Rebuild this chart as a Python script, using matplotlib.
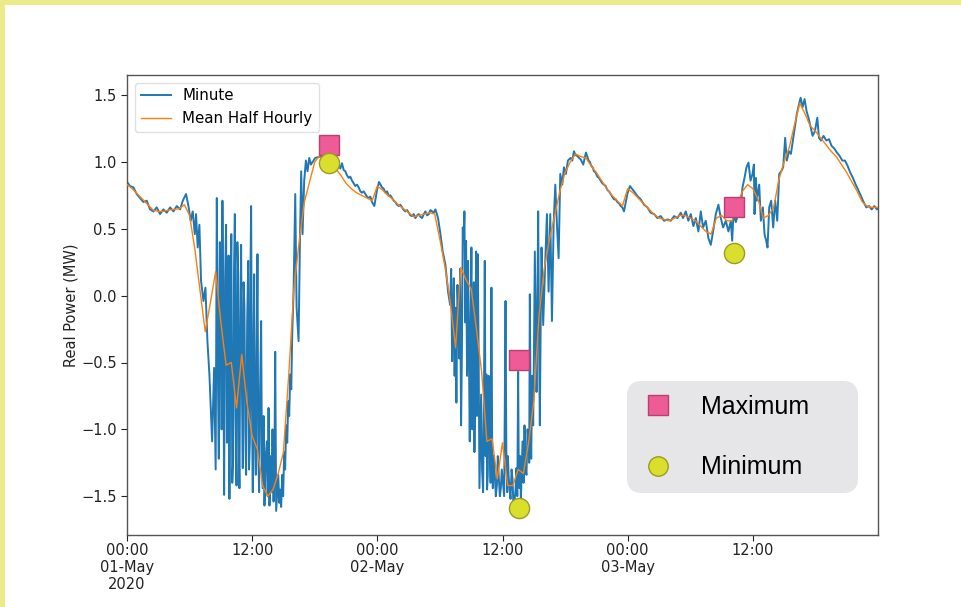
import matplotlib
matplotlib.use('Agg')
import matplotlib.pyplot as plt
from matplotlib.lines import Line2D
from matplotlib.patches import Rectangle

# ---------------- data (hours since 01-May-2020 00:00, MW) ----------------
# minute readings (hour, MW)
minute_readings = [
    (0.0, 0.85), (0.29, 0.82), (0.61, 0.81), (0.93, 0.76), (1.25, 0.73), (1.57, 0.70), (1.89, 0.71),
    (2.21, 0.645), (2.53, 0.63), (2.85, 0.66), (3.17, 0.61), (3.49, 0.645), (3.81, 0.62), (4.13, 0.66),
    (4.45, 0.63), (4.77, 0.67), (5.09, 0.645), (5.35, 0.71), (5.66, 0.76), (5.89, 0.67), (6.11, 0.56),
    (6.30, 0.63), (6.50, 0.46), (6.62, 0.61), (6.78, 0.36), (6.94, 0.53), (7.10, 0.11), (7.33, -0.04),
    (7.52, 0.06), (7.71, -0.34), (7.90, -0.59),
    (8.03, -0.84), (8.16, -1.09), (8.35, -0.54), (8.50, -1.30), (8.61, 0.73), (8.72, -0.60), (8.80, -1.22),
    (8.90, 0.40), (8.99, 0.16), (9.07, -1.00), (9.15, 0.71), (9.23, -0.30), (9.31, -1.49), (9.40, 0.10),
    (9.50, 0.53), (9.58, -1.10), (9.66, -0.84), (9.74, 0.30), (9.82, -1.52), (9.91, -0.20), (10.0, 0.46),
    (10.09, -1.40), (10.18, -1.22), (10.26, 0.20), (10.34, 0.61), (10.42, -0.90), (10.5, -1.42),
    (10.58, 0.40), (10.66, 0.16), (10.72, -1.10), (10.78, -1.44), (10.86, -0.30), (10.94, 0.38),
    (11.02, -0.70), (11.1, -1.29), (11.18, 0.10), (11.26, -0.09), (11.34, -1.00), (11.42, -1.34),
    (11.52, -0.20), (11.62, 0.26), (11.70, -1.30), (11.78, -1.09), (11.84, 0.20), (11.9, 0.67),
    (11.98, -0.80), (12.06, -1.47), (12.12, -0.50), (12.19, 0.16), (12.27, -1.10), (12.35, -1.34),
    (12.43, -0.40), (12.51, 0.31), (12.59, -1.20), (12.67, -1.47), (12.76, -0.70), (12.86, -0.19),
    (12.94, -1.30), (13.02, -1.44), (13.10, -0.90), (13.18, -1.57), (13.30, -1.20), (13.41, -1.09),
    (13.49, -1.50), (13.57, -0.84), (13.66, -1.57), (13.76, -1.20), (13.86, -1.47), (13.95, -1.00),
    (14.05, -1.54), (14.13, -1.30), (14.21, -0.42), (14.30, -1.61),
    (14.5, -1.34), (14.6, -1.55), (14.69, -1.45), (14.78, -1.58), (14.88, -1.34), (14.97, -1.50),
    (15.07, -1.17), (15.16, -1.30), (15.26, -0.97), (15.36, -1.10), (15.46, -0.79), (15.55, -0.90),
    (15.65, -0.59), (15.75, -0.70), (15.84, -0.29), (15.97, 0.03), (16.13, 0.76), (16.26, -0.09),
    (16.45, -0.34), (16.58, 0.41), (16.70, 0.93), (16.83, 0.46), (16.99, 0.86), (17.15, 1.01),
    (17.31, 0.93), (17.47, 1.03), (17.63, 0.98), (18.05, 1.03), (18.53, 1.04), (19.17, 1.03),
    (19.97, 1.02), (20.13, 0.97), (20.29, 0.98), (20.45, 0.95), (20.61, 0.99), (20.77, 0.94),
    (20.93, 0.93), (21.09, 0.90), (21.25, 0.88), (21.41, 0.89), (21.57, 0.86), (21.73, 0.84),
    (21.89, 0.82), (22.05, 0.83), (22.21, 0.81), (22.37, 0.78), (22.53, 0.77), (22.69, 0.78),
    (22.85, 0.76), (23.01, 0.74), (23.17, 0.73), (23.33, 0.74), (23.49, 0.70), (23.71, 0.67),
    (23.97, 0.79), (24.16, 0.85),
    (24.45, 0.81), (24.61, 0.80), (24.77, 0.77), (24.93, 0.78), (25.09, 0.745), (25.25, 0.75),
    (25.41, 0.73), (25.57, 0.71), (25.73, 0.70), (25.89, 0.68), (26.05, 0.67), (26.21, 0.68),
    (26.37, 0.66), (26.53, 0.64), (26.69, 0.63), (26.85, 0.64), (27.01, 0.62), (27.17, 0.60),
    (27.33, 0.595), (27.49, 0.61), (27.65, 0.58), (27.81, 0.60), (27.97, 0.61), (28.13, 0.59),
    (28.29, 0.58), (28.45, 0.61), (28.61, 0.63), (28.77, 0.60), (28.93, 0.61), (29.09, 0.64),
    (29.25, 0.63), (29.41, 0.62), (29.57, 0.645), (29.82, 0.58), (30.05, 0.46), (30.27, 0.33),
    (30.53, 0.23), (30.78, 0.03),
    (30.98, -0.07), (31.08, 0.20), (31.17, -0.49), (31.25, -0.20), (31.33, 0.13), (31.41, -0.60),
    (31.49, -0.09), (31.58, -0.80), (31.68, 0.08), (31.76, -0.10), (31.84, -0.47), (31.93, 0.20),
    (32.03, -0.97), (32.11, -0.40), (32.19, 0.51), (32.27, 0.40), (32.35, 0.63), (32.43, -0.20),
    (32.51, 0.41), (32.60, -0.60), (32.70, 0.26), (32.78, -0.40), (32.86, -1.09), (32.94, -0.20),
    (33.02, 0.36), (33.10, -1.00), (33.18, -0.59), (33.25, 0.10), (33.31, -1.17), (33.39, -0.50),
    (33.47, 0.33), (33.55, -0.90), (33.63, 0.31), (33.71, -0.40), (33.79, -1.44), (33.87, -1.10),
    (33.95, -0.74), (34.04, -1.30), (34.14, -1.47), (34.22, -0.80), (34.30, 0.26), (34.38, -1.20),
    (34.46, -0.59), (34.52, -1.45), (34.59, -1.34), (34.68, -0.60), (34.78, -1.09), (34.86, -1.40),
    (34.94, 0.06), (35.00, -1.00), (35.07, -1.44), (35.16, -1.20), (35.26, -1.34), (35.36, -1.50),
    (35.46, -1.42), (35.55, -1.20), (35.65, -1.37), (35.75, -1.50), (35.84, -1.44), (35.93, -1.30),
    (36.03, -1.39), (36.16, -1.50), (36.29, -0.04), (36.37, -1.20), (36.45, -1.47), (36.52, -1.20),
    (36.58, -1.34), (36.68, -1.45), (36.77, -1.52), (36.87, -1.30), (36.96, -1.37), (37.05, -1.58),
    (37.15, -1.54), (37.25, -1.45), (37.34, -1.29), (37.42, -1.50), (37.5, -0.57), (37.56, -1.30),
    (37.63, -1.44), (37.70, -1.20), (37.76, -1.54), (37.84, -1.30), (37.92, -1.09), (38.02, -1.40),
    (38.11, -0.97), (38.20, -1.30), (38.30, -1.34), (38.40, -1.00), (38.50, -1.09), (38.56, -1.25),
    (38.62, 0.01), (38.68, -0.70), (38.75, -1.22), (38.85, -0.60), (38.94, -0.97), (39.02, -0.40),
    (39.10, 0.33), (39.18, -0.20), (39.26, -0.72), (39.34, -0.10), (39.42, 0.63), (39.50, -0.30),
    (39.58, -0.97), (39.66, -0.20), (39.74, 0.36), (39.82, 0.10), (39.90, -0.22),
    (40.10, 0.26), (40.26, 0.61), (40.42, 0.03), (40.58, 0.61), (40.74, -0.19), (40.90, 0.53),
    (41.06, 0.83), (41.22, 0.53), (41.38, 0.28), (41.54, 0.91), (41.73, 0.83), (41.89, 0.96),
    (42.08, 0.91), (42.27, 1.01), (42.53, 1.03), (42.69, 1.01), (42.85, 1.08), (43.01, 1.05),
    (43.17, 1.045), (43.33, 1.03), (43.49, 1.02), (43.74, 0.98), (44.0, 1.07), (44.13, 1.04),
    (44.26, 1.01), (44.38, 1.0), (44.51, 0.97), (44.64, 0.96), (44.77, 0.93), (44.93, 0.92),
    (45.09, 0.89), (45.25, 0.88), (45.41, 0.86), (45.57, 0.84), (45.73, 0.83), (45.89, 0.82),
    (46.05, 0.79), (46.21, 0.78), (46.37, 0.76), (46.53, 0.74), (46.69, 0.72), (46.85, 0.72),
    (47.01, 0.70), (47.17, 0.69), (47.33, 0.67), (47.49, 0.66), (47.65, 0.63), (47.97, 0.76),
    (48.22, 0.82),
    (48.61, 0.78), (48.93, 0.745), (49.25, 0.72), (49.57, 0.68), (49.89, 0.66), (50.21, 0.62),
    (50.53, 0.61), (50.85, 0.58), (51.17, 0.595), (51.49, 0.56), (51.81, 0.57), (52.13, 0.56),
    (52.45, 0.595), (52.77, 0.58), (53.09, 0.62), (53.31, 0.58), (53.57, 0.63), (53.82, 0.56),
    (54.05, 0.61), (54.30, 0.52), (54.53, 0.58), (54.78, 0.48), (55.01, 0.63), (55.23, 0.51),
    (55.49, 0.56), (55.74, 0.43), (55.97, 0.38), (56.19, 0.48), (56.45, 0.61), (56.70, 0.68),
    (56.93, 0.58), (57.15, 0.51), (57.41, 0.56), (57.66, 0.48), (57.89, 0.56), (58.02, 0.41),
    (58.14, 0.61), (58.37, 0.55), (58.59, 0.61), (58.82, 0.66), (59.01, 0.81), (59.20, 0.88),
    (59.39, 0.96), (59.58, 0.995), (59.78, 0.86), (59.97, 0.91), (60.10, 0.98), (60.16, 0.61),
    (60.30, 0.88),
    (60.38, 0.71), (60.61, 0.83), (60.77, 0.56), (60.96, 0.66), (61.12, 0.46), (61.28, 0.41),
    (61.41, 0.36), (61.57, 0.66), (61.76, 0.71), (61.95, 0.51), (62.14, 0.71), (62.34, 0.56),
    (62.53, 0.91), (62.72, 0.93), (62.91, 0.96), (63.10, 1.18), (63.26, 1.01), (63.46, 1.08),
    (63.65, 1.06), (63.84, 1.16), (64.03, 1.26), (64.22, 1.36), (64.42, 1.43), (64.58, 1.48),
    (64.77, 1.41), (64.96, 1.47), (65.15, 1.38), (65.34, 1.33), (65.54, 1.26), (65.73, 1.195),
    (65.95, 1.23), (66.18, 1.33), (66.34, 1.18), (66.53, 1.16), (66.78, 1.195), (67.04, 1.16),
    (67.30, 1.17), (67.55, 1.12), (67.81, 1.10), (68.06, 1.07), (68.32, 1.045), (68.58, 1.01),
    (68.83, 1.01), (69.09, 0.97), (69.34, 0.92), (69.60, 0.88), (69.86, 0.83), (70.11, 0.79),
    (70.37, 0.745), (70.62, 0.70), (70.88, 0.66), (71.14, 0.67), (71.39, 0.645), (71.65, 0.67),
    (71.90, 0.645), (72.0, 0.655),
]
minute_hours = [r[0] for r in minute_readings]
minute_mw = [r[1] for r in minute_readings]

halfhour_mw = [
    0.83, 0.80, 0.76, 0.72, 0.68, 0.64, 0.63, 0.63, 0.64, 0.645, 0.65, 0.68,
    0.60, 0.35, 0.04, -0.27, -0.05, 0.18, -0.20, -0.52, -0.50, -0.84, -0.44, -0.80,
    -1.05, -1.15, -1.42, -1.50, -1.45, -1.33, -1.17, -0.60, 0.05, 0.40, 0.70, 0.85,
    1.00, 1.05, 1.03, 1.00, 0.95, 0.90, 0.84, 0.80, 0.77, 0.75, 0.73, 0.71,
    0.82, 0.79, 0.75, 0.72, 0.68, 0.65, 0.62, 0.59, 0.60, 0.61, 0.62, 0.61,
    0.42, 0.21, -0.05, -0.39, 0.21, 0.12, 0.05, -0.25, -0.57, -1.09, -1.07, -1.37,
    -1.10, -1.42, -1.42, -1.30, -1.33, -1.10, -0.79, -0.15, 0.20, 0.42, 0.60, 0.78,
    0.92, 1.00, 1.06, 1.04, 1.03, 0.97, 0.92, 0.86, 0.80, 0.75, 0.71, 0.67,
    0.80, 0.77, 0.73, 0.69, 0.65, 0.61, 0.58, 0.57, 0.56, 0.58, 0.60, 0.60,
    0.58, 0.56, 0.52, 0.48, 0.46, 0.58, 0.60, 0.56, 0.56, 0.68, 0.78, 0.83,
    0.80, 0.72, 0.58, 0.60, 0.66, 0.87, 1.00, 1.11, 1.28, 1.44, 1.36, 1.27,
    1.23, 1.18, 1.13, 1.08, 1.04, 0.98, 0.92, 0.85, 0.78, 0.70, 0.665, 0.66,
    0.66,
]
halfhour_hours = [0.5 * i for i in range(len(halfhour_mw))]

extreme_hours = [19.4, 37.6, 58.2]
maximum_mw = [1.13, -0.48, 0.66]
minimum_mw = [0.99, -1.59, 0.32]

xtick_hours = [0, 12, 24, 36, 48, 60]
xtick_labels = ['00:00\n01-May\n2020', '12:00', '00:00\n02-May', '12:00', '00:00\n03-May', '12:00']
ytick_values = [-1.5, -1.0, -0.5, 0.0, 0.5, 1.0, 1.5]

# ---------------- styling ----------------
BLUE = '#1f77b4'
ORANGE = '#ff7f0e'
PINK = '#ee5b97'
PINK_EDGE = '#b8416f'
YEL = '#d9df2c'
YEL_EDGE = '#9c9c22'

fig = plt.figure(figsize=(9.61, 6.07), dpi=100)
fig.patch.set_facecolor('white')
# yellow page edges
fig.patches.append(Rectangle((0, 1 - 5 / 607), 1, 5 / 607, transform=fig.transFigure,
                             facecolor='#ebeb8a', edgecolor='none', zorder=0))
fig.patches.append(Rectangle((0, 0), 5 / 961, 1, transform=fig.transFigure,
                             facecolor='#ebeb8a', edgecolor='none', zorder=0))

ax = fig.add_axes([127 / 961, 1 - 535 / 607, 751 / 961, 460 / 607])

ax.plot(minute_hours, minute_mw, color=BLUE, lw=1.4, label='Minute', zorder=2)
ax.plot(halfhour_hours, halfhour_mw, color=ORANGE, lw=1.0, label='Mean Half Hourly', zorder=3)

ax.plot(extreme_hours, maximum_mw, linestyle='none', marker='s', markersize=14,
        markerfacecolor=PINK, markeredgecolor=PINK_EDGE, markeredgewidth=1.0, zorder=5)
ax.plot(extreme_hours, minimum_mw, linestyle='none', marker='o', markersize=14.5,
        markerfacecolor=YEL, markeredgecolor=YEL_EDGE, markeredgewidth=1.0, zorder=5)

ax.set_xlim(0, 72)
ax.set_ylim(-1.79, 1.65)
ax.set_xticks(xtick_hours)
ax.set_xticklabels(xtick_labels, linespacing=1.15)
ax.set_yticks(ytick_values)
ax.set_yticklabels([('\u2212' if v < 0 else '') + f'{abs(v):.1f}' for v in ytick_values])
ax.tick_params(labelsize=10.5, colors='#222222', length=4)
ax.tick_params(axis='x', pad=2.0)
ax.set_ylabel('Real Power (MW)', fontsize=10.5, color='#222222', labelpad=1.5)
for s in ax.spines.values():
    s.set_color('#555555')
    s.set_linewidth(1.0)

leg1 = ax.legend(loc='upper left', fontsize=10.8, framealpha=0.9, edgecolor='#dddddd')
ax.add_artist(leg1)

handles = [
    Line2D([], [], linestyle='none', marker='s', markersize=14, markerfacecolor=PINK,
           markeredgecolor=PINK_EDGE, markeredgewidth=1.0),
    Line2D([], [], linestyle='none', marker='o', markersize=14, markerfacecolor=YEL,
           markeredgecolor=YEL_EDGE, markeredgewidth=1.0),
]
leg2 = ax.legend(handles, ['Maximum', 'Minimum'], loc='lower left',
                 bbox_to_anchor=(500 / 751, 42 / 460, 231 / 751, 0.2), mode='expand',
                 prop={'family': 'Liberation Sans', 'size': 18},
                 facecolor='#e6e5e7', edgecolor='none', framealpha=1.0,
                 borderpad=0.55, labelspacing=1.45, handlelength=1.4, handletextpad=1.0,
                 borderaxespad=0)
leg2.get_frame().set_boxstyle('round', pad=0, rounding_size=0.6)

fig.savefig('out.png', dpi=100, facecolor='white')
